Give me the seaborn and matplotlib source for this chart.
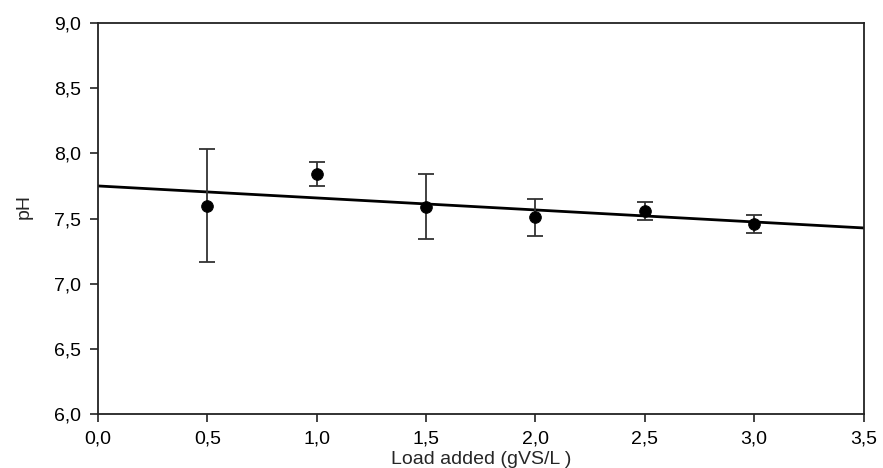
import matplotlib

matplotlib.use("Agg")

import matplotlib.pyplot as plt
import numpy as np
import pandas as pd
import seaborn as sns
from matplotlib.ticker import FuncFormatter, MultipleLocator

load = [0.5, 1.0, 1.5, 2.0, 2.5, 3.0]
ph_mean = [7.60, 7.84, 7.59, 7.51, 7.56, 7.46]
ph_err = [0.43, 0.09, 0.25, 0.14, 0.07, 0.07]
fit_intercept = 7.75
fit_slope = -0.092
fit_range = [0.0, 3.5]

sns.set_theme(style="ticks")
plt.rcParams["font.family"] = ["Liberation Sans", "DejaVu Sans"]

df = pd.DataFrame({"load": load, "ph": ph_mean, "err": ph_err})
fit_x = np.array(fit_range)
fit_df = pd.DataFrame({"load": fit_x, "ph": fit_intercept + fit_slope * fit_x})

fig, ax = plt.subplots(figsize=(8.83, 4.68), dpi=100)
fig.subplots_adjust(left=0.111, right=0.978, top=0.951, bottom=0.115)

sns.lineplot(data=fit_df, x="load", y="ph", color="black", linewidth=2, ax=ax)
ax.errorbar(df["load"], df["ph"], yerr=df["err"], fmt="none",
            ecolor="#333333", elinewidth=1.3, capsize=6, capthick=1.3)
sns.scatterplot(data=df, x="load", y="ph", color="black", s=70,
                edgecolor="black", zorder=5, ax=ax)

ax.set_xlim(0, 3.5)
ax.set_ylim(6, 9)
ax.xaxis.set_major_locator(MultipleLocator(0.5))
ax.yaxis.set_major_locator(MultipleLocator(0.5))
fmt = FuncFormatter(lambda v, _: f"{v:.1f}".replace(".", ","))
ax.xaxis.set_major_formatter(fmt)
ax.yaxis.set_major_formatter(fmt)
ax.tick_params(direction="out", length=6, width=1.2, labelsize=14,
               colors="#222222", pad=6)
ax.tick_params(axis="both", labelcolor="black")
for spine in ax.spines.values():
    spine.set_visible(True)
    spine.set_linewidth(1.3)
    spine.set_color("#222222")
ax.set_xlabel("Load added (gVS/L )", fontsize=14)
ax.set_ylabel("pH", fontsize=14)
ax.xaxis.set_label_coords(0.5, -0.095)
ax.yaxis.set_label_coords(-0.085, 0.532)

plt.savefig("out.png", dpi=100)
plt.close()
